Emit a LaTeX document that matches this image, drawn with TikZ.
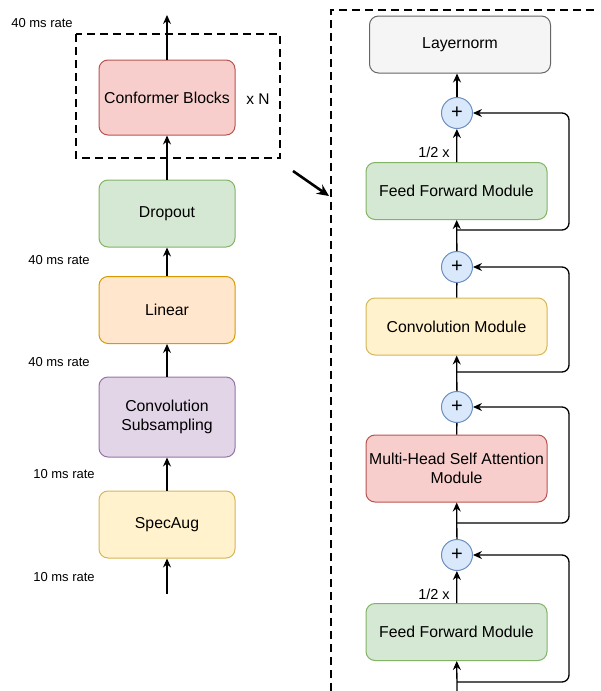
\documentclass[tikz,border=0pt]{standalone}
\usepackage{fontspec}
\setmainfont{Liberation Sans}
\usetikzlibrary{arrows.meta}
\definecolor{redfill}{HTML}{F8CECC}\definecolor{redline}{HTML}{B85450}
\definecolor{greenfill}{HTML}{D5E8D4}\definecolor{greenline}{HTML}{82B366}
\definecolor{orangefill}{HTML}{FFE6CC}\definecolor{orangeline}{HTML}{D79B00}
\definecolor{purplefill}{HTML}{E1D5E7}\definecolor{purpleline}{HTML}{9673A6}
\definecolor{yellowfill}{HTML}{FFF2CC}\definecolor{yellowline}{HTML}{D6B656}
\definecolor{grayfill}{HTML}{F5F5F5}\definecolor{grayline}{HTML}{666666}
\definecolor{bluefill}{HTML}{DAE8FC}\definecolor{blueline}{HTML}{6C8EBF}
\begin{document}
\begin{tikzpicture}[x=1pt,y=-1pt,
    block/.style={rounded corners=9pt,line width=1pt,align=center,inner sep=0pt,
        font=\fontsize{15.8}{19.5}\selectfont,minimum width=136pt,minimum height=67pt},
    modbox/.style={block,minimum width=181pt,minimum height=57pt},
    plusnode/.style={circle,draw=blueline,fill=bluefill,line width=1pt,minimum size=31pt,
        inner sep=0pt,font=\fontsize{20}{20}\selectfont},
    rate/.style={font=\fontsize{13}{15}\selectfont,inner sep=0pt},
    flow/.style={line width=1.3pt,-{Stealth[length=9pt,width=8pt,inset=3pt]}},
    plain/.style={line width=1.3pt},
    skip/.style={flow,rounded corners=7pt},
    dashbox/.style={line width=2pt,dash pattern=on 8pt off 5pt}]
    \useasboundingbox (0,0) rectangle (601,691);
    % left column
    \node[block,fill=redfill,draw=redline,minimum height=75pt] (conf) at (167,97.5) {Conformer Blocks};
    \node[block,fill=greenfill,draw=greenline] (drop) at (167,213.5) {Dropout};
    \node[block,fill=orangefill,draw=orangeline] (lin) at (167,310) {Linear};
    \node[block,fill=purplefill,draw=purpleline,minimum height=80pt] (sub) at (167,417) {Convolution\\Subsampling};
    \node[block,fill=yellowfill,draw=yellowline] (spec) at (167,524.5) {SpecAug};
    \coordinate (out) at (167,15);
    \coordinate (in) at (167,594);
    \node[rate] (r1) at (42,23) {40 ms rate};
    \node[rate] (r2) at (59,260) {40 ms rate};
    \node[rate] (r3) at (59,362) {40 ms rate};
    \node[rate] (r4) at (64,474) {10 ms rate};
    \node[rate] (r5) at (64,577) {10 ms rate};
    \node[font=\fontsize{15.5}{17}\selectfont] (xn) at (258,99) {x N};
    \draw[dashbox] (76,34) rectangle (280,158);
    \draw[flow] (conf) -- (out);
    \draw[flow] (drop) -- (conf);
    \draw[flow] (lin) -- (drop);
    \draw[flow] (sub) -- (lin);
    \draw[flow] (spec) -- (sub);
    \draw[flow] (in) -- (spec);
    % zoom arrow
    \coordinate (z1) at (293,171);
    \coordinate (z2) at (329,196);
    \draw[line width=2.6pt,-{Stealth[length=12pt,width=11pt,inset=4pt]}] (z1) -- (z2);
    % right column
    \draw[dashbox] (331,691) -- (331,10) -- (597,10);
    \node[modbox,fill=grayfill,draw=grayline] (norm) at (460,44.5) {Layernorm};
    \node[plusnode] (p1) at (457,113) {+};
    \node[modbox,fill=greenfill,draw=greenline] (ff1) at (456.5,191) {Feed Forward Module};
    \node[plusnode] (p2) at (457,267) {+};
    \node[modbox,fill=yellowfill,draw=yellowline] (conv) at (456.5,326.5) {Convolution Module};
    \node[plusnode] (p3) at (457,407) {+};
    \node[modbox,fill=redfill,draw=redline,minimum height=67pt] (mhsa) at (456.5,468.5) {Multi-Head Self Attention\\Module};
    \node[plusnode] (p4) at (457,555) {+};
    \node[modbox,fill=greenfill,draw=greenline] (ff2) at (456.5,632) {Feed Forward Module};
    \node[rate,font=\fontsize{14.5}{16}\selectfont] (h1) at (434,152) {1/2 x};
    \node[rate,font=\fontsize{14.5}{16}\selectfont] (h2) at (434,594) {1/2 x};
    \coordinate (b1) at (457,230);
    \coordinate (b2) at (457,372);
    \coordinate (b3) at (457,523);
    \coordinate (b4) at (457,682);
    \coordinate (bin) at (457,691);
    \draw[flow] (p1.north) -- (p1.north |- norm.south);
    \draw[flow] (ff1) -- (p1);
    \draw[flow] (p2) -- (ff1);
    \draw[plain] (conv) -- (p2);
    \draw[flow] (p3) -- (conv);
    \draw[plain] (mhsa) -- (p3);
    \draw[flow] (p4) -- (mhsa);
    \draw[flow] (ff2) -- (p4);
    \draw[flow] (bin) -- (ff2);
    \draw[skip] (b1) -- ++(112,0) |- (p1);
    \draw[skip] (b2) -- ++(112,0) |- (p2);
    \draw[skip] (b3) -- ++(112,0) |- (p3);
    \draw[skip] (b4) -- ++(112,0) |- (p4);
\end{tikzpicture}
\end{document}
